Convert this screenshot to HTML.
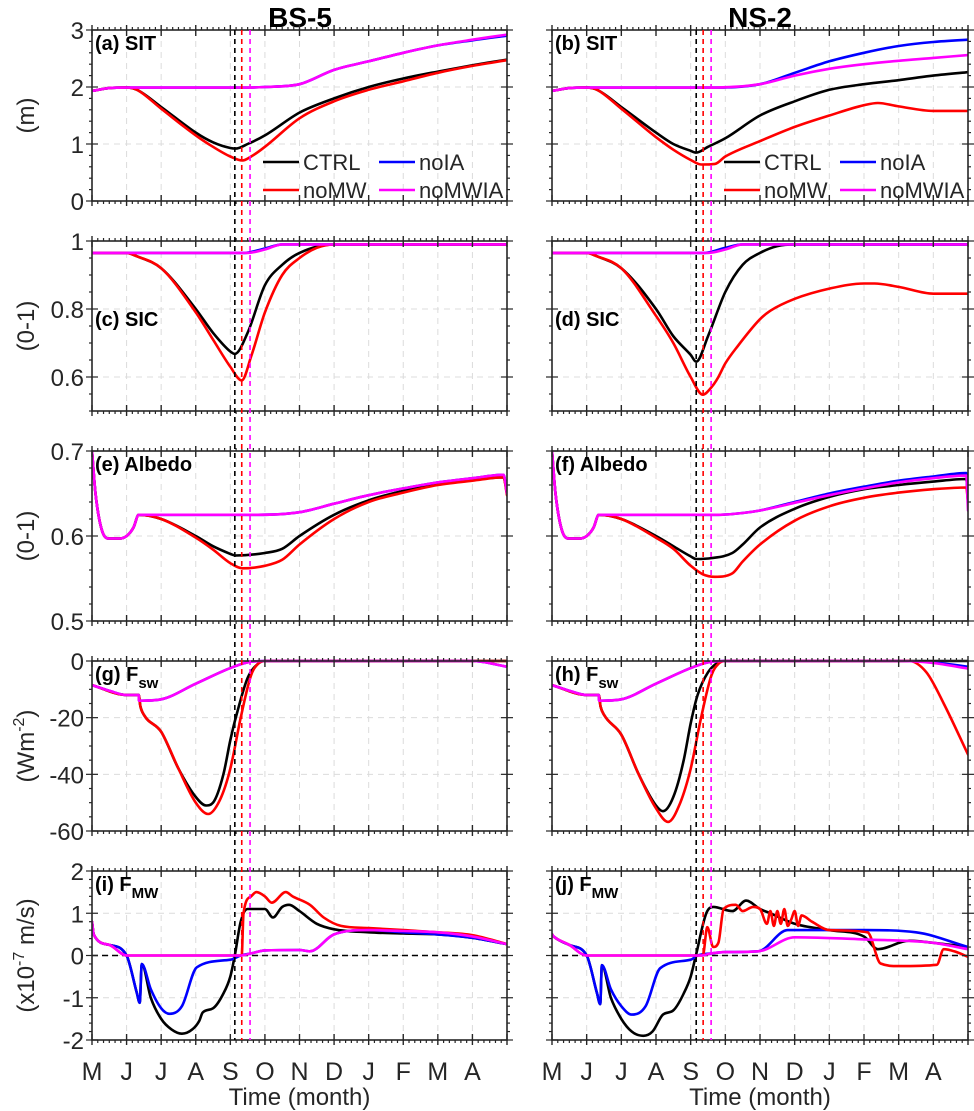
<!DOCTYPE html>
<html><head><meta charset="utf-8">
<style>
html,body{margin:0;padding:0;background:#fff;}
svg{display:block;font-family:"Liberation Sans",Arial,sans-serif;}
</style></head>
<body>
<svg id="fig" width="974" height="1111" viewBox="0 0 974 1111" xmlns="http://www.w3.org/2000/svg"></svg>
<script>
// ---------- data ----------
const months = ['M','J','J','A','S','O','N','D','J','F','M','A'];
const vlinesLeft = [4.13, 4.33, 4.57];
const vlinesRight = [4.16, 4.36, 4.59];

// (a) BS-5 SIT
const tA_ctrl=[0,0.5,1,1.3,2,3,3.5,4,4.15,4.5,5,6,7,8,9,10,11,12];
const vA_ctrl=[1.93,1.98,1.99,1.95,1.65,1.2,1.03,0.93,0.92,1.0,1.15,1.55,1.8,2.0,2.15,2.27,2.38,2.48];
const tA_nomw=[0,0.5,1,1.3,2,3,3.5,4,4.35,4.6,5,6,7,8,9,10,11,12];
const vA_nomw=[1.93,1.98,1.99,1.95,1.62,1.15,0.95,0.78,0.71,0.78,0.95,1.45,1.75,1.95,2.1,2.25,2.37,2.47];
const tA_noia=[0,0.5,1,4.5,5,6,7,8,9,10,11,12];
const vA_noia=[1.93,1.98,1.99,1.99,2.0,2.05,2.3,2.45,2.6,2.73,2.82,2.9];
const tA_nomwia=[0,0.5,1,4.5,5,6,7,8,9,10,11,12];
const vA_nomwia=[1.93,1.98,1.99,1.99,2.0,2.05,2.3,2.45,2.6,2.73,2.83,2.92];
// (b) NS-2 SIT
const tB_ctrl=[0,0.5,1,1.3,2,3,3.5,4,4.16,4.5,5,6,7,8,9,10,11,12];
const vB_ctrl=[1.93,1.98,1.99,1.95,1.65,1.2,1.0,0.88,0.85,0.95,1.1,1.5,1.75,1.95,2.05,2.12,2.2,2.26];
const tB_nomw=[0,0.5,1,1.3,2,3,3.5,4,4.3,4.7,5,6,7,8,9,9.4,10,11,12];
const vB_nomw=[1.93,1.98,1.99,1.95,1.62,1.12,0.9,0.72,0.64,0.65,0.78,1.05,1.3,1.5,1.68,1.72,1.66,1.58,1.58];
const tB_noia=[0,0.5,1,4.5,6,7,8,9,10,11,12];
const vB_noia=[1.93,1.98,1.99,1.99,2.05,2.25,2.45,2.6,2.72,2.79,2.83];
const tB_nomwia=[0,0.5,1,4.5,6,7,8,9,10,11,12];
const vB_nomwia=[1.93,1.98,1.99,1.99,2.05,2.2,2.32,2.4,2.46,2.51,2.56];
// (c) BS-5 SIC
const tC_ctrl=[0,1,1.3,2,3,3.5,4,4.13,4.5,5,5.5,6,7,12];
const vC_ctrl=[0.965,0.965,0.955,0.92,0.8,0.73,0.675,0.668,0.73,0.87,0.93,0.965,0.99,0.99];
const tC_nomw=[0,1,1.3,2,3,3.5,4,4.33,4.6,5,5.5,6,6.5,7,12];
const vC_nomw=[0.965,0.965,0.955,0.92,0.79,0.71,0.63,0.59,0.66,0.79,0.9,0.95,0.98,0.99,0.99];
const tC_noia=[0,4.4,5,5.5,12];
const vC_noia=[0.965,0.965,0.978,0.99,0.99];
const tC_nomwia=[0,4.5,5,5.5,12];
const vC_nomwia=[0.965,0.965,0.975,0.99,0.99];
// (d) NS-2 SIC
const tD_ctrl=[0,1,1.3,2,3,3.5,4,4.16,4.5,5,5.5,6,6.5,7,12];
const vD_ctrl=[0.965,0.965,0.955,0.92,0.8,0.72,0.665,0.645,0.72,0.85,0.93,0.965,0.985,0.99,0.99];
const tD_nomw=[0,1,1.3,2,3,3.5,4,4.35,4.6,4.8,5,5.35,6,6.3,7,8,9,9.3,10,11,12];
const vD_nomw=[0.965,0.965,0.955,0.92,0.78,0.7,0.6,0.548,0.57,0.6,0.64,0.69,0.77,0.795,0.83,0.86,0.875,0.875,0.865,0.845,0.845];
const tD_noia=[0,4.4,5,5.5,12];
const vD_noia=[0.965,0.965,0.98,0.99,0.99];
const tD_nomwia=[0,4.5,5,5.5,12];
const vD_nomwia=[0.965,0.965,0.975,0.99,0.99];
// (e) BS-5 Albedo
const tE_ctrl=[0,0.1,0.3,0.5,0.8,1,1.2,1.35,2,3,3.5,4,4.15,5,5.5,6,7,8,9,10,11,11.9,12];
const vE_ctrl=[0.7,0.65,0.605,0.597,0.597,0.6,0.61,0.625,0.62,0.6,0.588,0.579,0.577,0.58,0.585,0.6,0.625,0.642,0.653,0.661,0.666,0.669,0.65];
const tE_nomw=[0,0.1,0.3,0.5,0.8,1,1.2,1.35,2,3,3.5,4,4.35,5,5.5,6,7,8,9,10,11,11.9,12];
const vE_nomw=[0.7,0.65,0.605,0.597,0.597,0.6,0.61,0.625,0.62,0.598,0.584,0.568,0.562,0.565,0.572,0.59,0.62,0.64,0.651,0.66,0.665,0.669,0.648];
const tE_noia=[0,0.1,0.3,0.5,0.8,1,1.2,1.35,4.8,6,7,8,9,10,11,11.9,12];
const vE_noia=[0.7,0.65,0.605,0.597,0.597,0.6,0.61,0.625,0.625,0.628,0.638,0.648,0.656,0.663,0.668,0.672,0.65];
const tE_nomwia=[0,0.1,0.3,0.5,0.8,1,1.2,1.35,4.8,6,7,8,9,10,11,11.9,12];
const vE_nomwia=[0.7,0.65,0.605,0.597,0.597,0.6,0.61,0.625,0.625,0.628,0.638,0.648,0.656,0.663,0.668,0.672,0.65];
// (f) NS-2 Albedo
const tF_ctrl=[0,0.1,0.3,0.5,0.8,1,1.2,1.35,2,3,3.5,4,4.16,4.6,5.2,5.5,6,7,8,9,10,11,11.95,12];
const vF_ctrl=[0.7,0.65,0.605,0.597,0.597,0.6,0.61,0.625,0.62,0.6,0.588,0.576,0.573,0.574,0.58,0.59,0.61,0.632,0.646,0.655,0.66,0.664,0.667,0.64];
const tF_nomw=[0,0.1,0.3,0.5,0.8,1,1.2,1.35,2,3,3.5,4,4.35,4.7,5.2,5.5,6,7,8,9,10,11,11.95,12];
const vF_nomw=[0.7,0.65,0.605,0.597,0.597,0.6,0.61,0.625,0.62,0.598,0.585,0.565,0.555,0.552,0.556,0.57,0.59,0.618,0.635,0.645,0.651,0.655,0.657,0.64];
const tF_noia=[0,0.1,0.3,0.5,0.8,1,1.2,1.35,4.8,5.5,6,7,8,9,10,11,11.95,12];
const vF_noia=[0.7,0.65,0.605,0.597,0.597,0.6,0.61,0.625,0.625,0.627,0.63,0.64,0.65,0.658,0.665,0.67,0.674,0.64];
const tF_nomwia=[0,0.1,0.3,0.5,0.8,1,1.2,1.35,4.8,5.5,6,7,8,9,10,11,11.95,12];
const vF_nomwia=[0.7,0.65,0.605,0.597,0.597,0.6,0.61,0.625,0.625,0.627,0.63,0.639,0.648,0.656,0.663,0.668,0.671,0.63];
// (g) BS-5 Fsw
const tG_ctrl=[0,1,1.35,1.4,1.5,2,2.5,3,3.3,3.5,3.8,4,4.2,4.5,4.8,5,12];
const vG_ctrl=[-8.5,-12,-12,-16,-19,-25,-38,-48,-51,-50,-40,-28,-18,-6,-1,0,0];
const tG_nomw=[0,1,1.35,1.4,1.5,2,2.5,3,3.36,3.7,4,4.3,4.6,4.8,5,12];
const vG_nomw=[-8.5,-12,-12,-16,-19,-25,-38,-50,-54,-49,-38,-20,-5,-1,0,0];
const tG_noia=[0,0.5,1,1.35,1.36,2,3,4,4.5,5,11,12];
const vG_noia=[-8.5,-10.5,-12,-12,-14,-13.5,-8,-2.5,-0.5,0,0,-2];
const tG_nomwia=[0,0.5,1,1.35,1.36,2,3,4,4.5,5,11,12];
const vG_nomwia=[-8.5,-10.5,-12,-12,-14,-13.5,-8,-2.5,-0.5,0,0,-2];
// (h) NS-2 Fsw
const tH_ctrl=[0,1,1.35,1.4,1.5,2,2.5,3,3.2,3.5,3.8,4,4.2,4.5,4.8,5,12];
const vH_ctrl=[-8.5,-12,-12,-16,-19,-26,-40,-51,-53,-48,-35,-22,-12,-4,-0.5,0,0];
const tH_nomw=[0,1,1.35,1.4,1.5,2,2.5,3,3.35,3.7,4,4.3,4.6,4.8,5,10.3,10.8,11.3,12];
const vH_nomw=[-8.5,-12,-12,-16,-19,-26,-40,-52,-56.8,-50,-38,-20,-5,-1,0,0,-4,-15,-33];
const tH_noia=[0,0.5,1,1.35,1.36,2,3,4,4.5,5,10,11,12];
const vH_noia=[-8.5,-10.5,-12,-12,-14,-13.5,-8,-2.5,-0.5,0,0,-0.5,-2];
const tH_nomwia=[0,0.5,1,1.35,1.36,2,3,4,4.5,5,10,11,12];
const vH_nomwia=[-8.5,-10.5,-12,-12,-14,-13.5,-8,-2.5,-0.5,0,0,-0.7,-2.7];
// (i) BS-5 FMW
const tI_ctrl=[0,0.05,0.5,1,1.3,1.38,1.44,1.7,2,2.3,2.6,2.9,3.1,3.2,3.5,3.8,4.0,4.13,4.3,4.5,5,5.23,5.5,5.7,6,6.5,7,8,9,10,11,12];
const vI_ctrl=[0.8,0.5,0.25,0,-0.9,-1.12,-0.2,-1.0,-1.5,-1.75,-1.85,-1.75,-1.55,-1.35,-1.25,-0.9,-0.5,0,0.8,1.1,1.1,0.9,1.15,1.2,1.05,0.75,0.62,0.55,0.52,0.5,0.42,0.27];
const tI_nomw=[0,0.05,0.5,1,4.33,4.38,4.6,4.75,5,5.2,5.6,5.8,6.3,6.7,7.2,8,9,10,11,12];
const vI_nomw=[0.8,0.5,0.25,0,0,1.0,1.4,1.5,1.4,1.25,1.5,1.4,1.2,0.9,0.7,0.65,0.6,0.55,0.48,0.27];
const tI_noia=[0,0.05,0.5,1,1.3,1.38,1.44,1.7,2,2.25,2.6,3.03,4,4.3,4.6,5,6,6.3,7,8,9,10,11,12];
const vI_noia=[0.8,0.5,0.25,0,-0.9,-1.12,-0.2,-0.8,-1.25,-1.38,-1.2,-0.28,-0.1,0,0.05,0.12,0.13,0.1,0.5,0.6,0.55,0.5,0.42,0.27];
const tI_nomwia=[0,0.05,0.5,1,4.3,4.6,5,6,6.3,7,8,9,10,11,12];
const vI_nomwia=[0.8,0.5,0.25,0,0,0.05,0.12,0.13,0.1,0.5,0.6,0.58,0.55,0.45,0.27];
// (j) NS-2 FMW
const tJ_ctrl=[0,0.05,0.5,1,1.3,1.39,1.44,1.7,2,2.3,2.63,2.9,3.2,3.5,3.8,4.0,4.15,4.45,4.65,5.2,5.6,6.0,6.3,7,8,9,9.4,10.3,11,12];
const vJ_ctrl=[0.5,0.45,0.25,0,-0.9,-1.15,-0.23,-1.0,-1.5,-1.8,-1.9,-1.8,-1.4,-1.3,-0.9,-0.5,0,1.0,1.15,1.05,1.3,1.1,1.0,0.75,0.6,0.45,0.15,0.35,0.3,0.2];
const tJ_nomw=[0,0.05,0.5,1,4.35,4.48,4.65,4.8,4.95,5.3,5.5,5.8,6.0,6.2,6.3,6.4,6.5,6.6,6.7,6.8,6.9,7.0,7.1,7.2,7.5,8,9.1,9.48,10,11.1,11.3,11.6,12];
const vJ_nomw=[0.5,0.45,0.25,0,0,0.67,0.2,0.3,1.1,1.2,1.05,1.15,1.1,0.75,1.05,0.7,1.05,0.75,1.1,0.7,0.85,1.05,0.7,0.95,0.8,0.6,0.55,-0.19,-0.25,-0.22,0.15,0.1,-0.03];
const tJ_noia=[0,0.05,0.5,1,1.3,1.39,1.44,1.7,2,2.3,2.7,3.12,4,4.2,4.6,5,5.95,6.8,9,10.5,12];
const vJ_noia=[0.5,0.45,0.25,0,-0.9,-1.15,-0.23,-0.8,-1.2,-1.4,-1.2,-0.3,-0.1,0,0.05,0.08,0.1,0.6,0.6,0.55,0.2];
const tJ_nomwia=[0,0.05,0.5,1,4.3,4.6,5,5.95,7.0,9,11,12];
const vJ_nomwia=[0.5,0.45,0.25,0,0,0.05,0.08,0.1,0.43,0.38,0.3,0.15];

// ---------- layout ----------
const svg = document.getElementById('fig');
const NS = 'http://www.w3.org/2000/svg';
const cols = [{x0:92,x1:507},{x0:552,x1:968}];
const rows = [{y0:30,y1:201},{y0:241,y1:411},{y0:451,y1:621},{y0:661,y1:831},{y0:871,y1:1040}];
const C = {ctrl:'#000000', noia:'#0000ff', nomw:'#ff0000', nomwia:'#ff00ff'};

function mk(tag, attrs, parent){
  const e = document.createElementNS(NS, tag);
  for (const k in attrs) e.setAttribute(k, attrs[k]);
  (parent||svg).appendChild(e);
  return e;
}
// monotone cubic (Fritsch-Carlson) path in pixel space
function smoothPath(P){
  const n=P.length;
  const d=[], m=new Array(n).fill(0);
  for(let i=0;i<n-1;i++){
    const h=P[i+1][0]-P[i][0];
    d.push(h>1e-6?(P[i+1][1]-P[i][1])/h:0);
  }
  m[0]=d[0]; m[n-1]=d[n-2];
  for(let i=1;i<n-1;i++){
    m[i]=(d[i-1]*d[i]<=0)?0:(d[i-1]+d[i])/2;
  }
  for(let i=0;i<n-1;i++){
    if(Math.abs(d[i])<1e-9){m[i]=0;m[i+1]=0;continue;}
    const a=m[i]/d[i], b=m[i+1]/d[i];
    if(a<0) m[i]=0; if(b<0) m[i+1]=0;
    const s=a*a+b*b;
    if(s>9){const t=3/Math.sqrt(s); m[i]=t*a*d[i]; m[i+1]=t*b*d[i];}
  }
  let s='M'+P[0][0].toFixed(1)+','+P[0][1].toFixed(1);
  for(let i=0;i<n-1;i++){
    const h=P[i+1][0]-P[i][0];
    if(h<1e-6){ s+=' L'+P[i+1][0].toFixed(1)+','+P[i+1][1].toFixed(1); continue; }
    const c1x=P[i][0]+h/3, c1y=P[i][1]+m[i]*h/3;
    const c2x=P[i+1][0]-h/3, c2y=P[i+1][1]-m[i+1]*h/3;
    s+=' C'+c1x.toFixed(1)+','+c1y.toFixed(1)+' '+c2x.toFixed(1)+','+c2y.toFixed(1)+' '+P[i+1][0].toFixed(1)+','+P[i+1][1].toFixed(1);
  }
  return s;
}

const panels = [
  {id:'a',col:0,row:0,ymin:0,ymax:3,major:[0,1,2,3],minor:0.2,label:'(a) SIT',yl:'(m)',
   s:{ctrl:[tA_ctrl,vA_ctrl],noia:[tA_noia,vA_noia],nomw:[tA_nomw,vA_nomw],nomwia:[tA_nomwia,vA_nomwia]}},
  {id:'b',col:1,row:0,ymin:0,ymax:3,major:[0,1,2,3],minor:0.2,label:'(b) SIT',
   s:{ctrl:[tB_ctrl,vB_ctrl],noia:[tB_noia,vB_noia],nomw:[tB_nomw,vB_nomw],nomwia:[tB_nomwia,vB_nomwia]}},
  {id:'c',col:0,row:1,ymin:0.5,ymax:1,major:[0.6,0.8,1],minor:0.05,label:'(c) SIC',yl:'(0-1)',labY:85,
   s:{ctrl:[tC_ctrl,vC_ctrl],noia:[tC_noia,vC_noia],nomw:[tC_nomw,vC_nomw],nomwia:[tC_nomwia,vC_nomwia]}},
  {id:'d',col:1,row:1,ymin:0.5,ymax:1,major:[0.6,0.8,1],minor:0.05,label:'(d) SIC',labY:85,
   s:{ctrl:[tD_ctrl,vD_ctrl],noia:[tD_noia,vD_noia],nomw:[tD_nomw,vD_nomw],nomwia:[tD_nomwia,vD_nomwia]}},
  {id:'e',col:0,row:2,ymin:0.5,ymax:0.7,major:[0.5,0.6,0.7],minor:0.02,label:'(e) Albedo',yl:'(0-1)',
   s:{ctrl:[tE_ctrl,vE_ctrl],noia:[tE_noia,vE_noia],nomw:[tE_nomw,vE_nomw],nomwia:[tE_nomwia,vE_nomwia]}},
  {id:'f',col:1,row:2,ymin:0.5,ymax:0.7,major:[0.5,0.6,0.7],minor:0.02,label:'(f) Albedo',
   s:{ctrl:[tF_ctrl,vF_ctrl],noia:[tF_noia,vF_noia],nomw:[tF_nomw,vF_nomw],nomwia:[tF_nomwia,vF_nomwia]}},
  {id:'g',col:0,row:3,ymin:-60,ymax:0,major:[-60,-40,-20,0],minor:5,label:'(g) F',sub:'sw',yl:'(Wm',ylsup:'-2',
   s:{ctrl:[tG_ctrl,vG_ctrl],noia:[tG_noia,vG_noia],nomw:[tG_nomw,vG_nomw],nomwia:[tG_nomwia,vG_nomwia]}},
  {id:'h',col:1,row:3,ymin:-60,ymax:0,major:[-60,-40,-20,0],minor:5,label:'(h) F',sub:'sw',
   s:{ctrl:[tH_ctrl,vH_ctrl],noia:[tH_noia,vH_noia],nomw:[tH_nomw,vH_nomw],nomwia:[tH_nomwia,vH_nomwia]}},
  {id:'i',col:0,row:4,ymin:-2,ymax:2,major:[-2,-1,0,1,2],minor:0.2,label:'(i) F',sub:'MW',yl:'(x10',ylsup:'-7',ylrest:' m/s)',zero:true,
   s:{ctrl:[tI_ctrl,vI_ctrl],noia:[tI_noia,vI_noia],nomw:[tI_nomw,vI_nomw],nomwia:[tI_nomwia,vI_nomwia]}},
  {id:'j',col:1,row:4,ymin:-2,ymax:2,major:[-2,-1,0,1,2],minor:0.2,label:'(j) F',sub:'MW',zero:true,
   s:{ctrl:[tJ_ctrl,vJ_ctrl],noia:[tJ_noia,vJ_noia],nomw:[tJ_nomw,vJ_nomw],nomwia:[tJ_nomwia,vJ_nomwia]}},
];

const defs = mk('defs',{});

let t1 = mk('text',{x:300,y:27,'text-anchor':'middle','font-size':28,'font-weight':'bold'});
t1.textContent='BS-5';


let t2 = mk('text',{x:760,y:27,'text-anchor':'middle','font-size':28,'font-weight':'bold'});
t2.textContent='NS-2';



panels.forEach(p=>{
  const c = cols[p.col], r = rows[p.row];
  const X = m => c.x0 + (m/12)*(c.x1-c.x0);
  const Y = v => r.y1 - (v-p.ymin)/(p.ymax-p.ymin)*(r.y1-r.y0);
  const g = mk('g',{});
  
  
  const cp = mk('clipPath',{id:'clip-'+p.id},defs);
  mk('rect',{x:c.x0,y:r.y0-2,width:c.x1-c.x0,height:r.y1-r.y0+4},cp);
  for(let m=1;m<12;m++){
    mk('line',{x1:X(m),x2:X(m),y1:r.y0,y2:r.y1,stroke:'#dcdcdc','stroke-width':1,'stroke-dasharray':'6,5'},g);
  }
  p.major.forEach(v=>{
    if(v===p.ymin||v===p.ymax) return;
    mk('line',{x1:c.x0,x2:c.x1,y1:Y(v),y2:Y(v),stroke:'#dcdcdc','stroke-width':1,'stroke-dasharray':'6,5'},g);
  });
  if(p.zero){
    const z = mk('line',{x1:c.x0,x2:c.x1,y1:Y(0),y2:Y(0),stroke:'#000','stroke-width':1.5,'stroke-dasharray':'6,4'},g);
    
    
  }
  const order=['ctrl','noia','nomw','nomwia'];
  const lg = mk('g',{'clip-path':'url(#clip-'+p.id+')'},g);
  order.forEach(k=>{
    const [ts,vs]=p.s[k];
    const P = ts.map((t,i)=>[X(t),Y(vs[i])]);
    const pl = mk('path',{d:smoothPath(P),fill:'none',stroke:C[k],'stroke-width':2.6,'stroke-linejoin':'round','stroke-linecap':'round'},lg);
    
    
  });
  mk('rect',{x:c.x0,y:r.y0,width:c.x1-c.x0,height:r.y1-r.y0,fill:'none',stroke:'#262626','stroke-width':1.6},g);
  for(let m=0;m<=12;m++){
    [r.y0,r.y1].forEach((yy,j)=>{
      const d = j===0?1:-1;
      mk('line',{x1:X(m),x2:X(m),y1:yy,y2:yy+d*6,stroke:'#262626','stroke-width':1.4},g);
      mk('line',{x1:X(m),x2:X(m),y1:yy,y2:yy-d*5,stroke:'#262626','stroke-width':1.4},g);
    });
    if(m<12){
      for(let k=1;k<6;k++){
        const xm = X(m+k/6);
        mk('line',{x1:xm,x2:xm,y1:r.y0,y2:r.y0-3,stroke:'#262626','stroke-width':1.2},g);
        mk('line',{x1:xm,x2:xm,y1:r.y1,y2:r.y1+3,stroke:'#262626','stroke-width':1.2},g);
      }
    }
  }
  const n = Math.round((p.ymax-p.ymin)/p.minor);
  for(let k=0;k<=n;k++){
    const v = p.ymin + k*p.minor;
    const isMaj = p.major.some(mv=>Math.abs(mv-v)<1e-9);
    const L = isMaj?6:3;
    mk('line',{x1:c.x0,x2:c.x0-L,y1:Y(v),y2:Y(v),stroke:'#262626','stroke-width':1.2},g);
    mk('line',{x1:c.x1,x2:c.x1+L,y1:Y(v),y2:Y(v),stroke:'#262626','stroke-width':1.2},g);
    if(isMaj){
      mk('line',{x1:c.x0,x2:c.x0+6,y1:Y(v),y2:Y(v),stroke:'#262626','stroke-width':1.2},g);
      mk('line',{x1:c.x1,x2:c.x1-6,y1:Y(v),y2:Y(v),stroke:'#262626','stroke-width':1.2},g);
    }
  }
  if(p.col===0){
    p.major.forEach(v=>{
      const tl = mk('text',{x:c.x0-8,y:Y(v)+9,'text-anchor':'end','font-size':24,fill:'#262626'},g);
      tl.textContent = String(v);
      
      
    });
    const cy = (r.y0+r.y1)/2;
    const yl = mk('text',{x:0,y:0,'text-anchor':'middle','font-size':24,fill:'#262626',transform:'translate(34,'+cy+') rotate(-90)'},g);
    
    
    const s1 = mk('tspan',{},yl); s1.textContent = p.yl;
    if(p.ylsup){
      const s2 = mk('tspan',{dy:-10,'font-size':16},yl); s2.textContent=p.ylsup;
      const s3 = mk('tspan',{dy:10},yl); s3.textContent = p.ylrest||')';
    }
  }
  const ly = r.y0 + (p.labY||20);
  const pl = mk('text',{x:c.x0+3,y:ly,'font-size':20,'font-weight':'bold',fill:'#000'},g);
  
  
  const a1 = mk('tspan',{},pl); a1.textContent = p.label;
  if(p.sub){ const a2 = mk('tspan',{dy:7,'font-size':15},pl); a2.textContent=p.sub; }
  if(p.row===4){
    months.forEach((mn,i)=>{
      const ml = mk('text',{x:X(i),y:1080,'text-anchor':'middle','font-size':25,fill:'#262626'},g);
      ml.textContent = mn;
      
      
    });
    const xt = mk('text',{x:(c.x0+c.x1)/2,y:1105,'text-anchor':'middle','font-size':24,fill:'#262626'},g);
    xt.textContent='Time (month)';
    
    
  }
});

[[cols[0],vlinesLeft],[cols[1],vlinesRight]].forEach(([c,vs])=>{
  const cs=['#000','#ff0000','#ff00ff'];
  vs.forEach((m,i)=>{
    const x = c.x0 + (m/12)*(c.x1-c.x0);
    const vl = mk('line',{x1:x,x2:x,y1:rows[0].y0,y2:rows[4].y1,stroke:cs[i],'stroke-width':1.6,'stroke-dasharray':'5,4'});
    
    
  });
});

[{x:263,y:162},{x:724,y:162}].forEach((L,li)=>{
  const lg = mk('g',{});
  
  
  const items=[['CTRL','ctrl',0,0],['noIA','noia',1,0],['noMW','nomw',0,1],['noMWIA','nomwia',1,1]];
  items.forEach(([name,k,cx,ry])=>{
    const x = L.x + cx*116, y = L.y + ry*28;
    const ln = mk('line',{x1:x,x2:x+36,y1:y,y2:y,stroke:C[k],'stroke-width':2.6},lg);
    
    
    const tx = mk('text',{x:x+40,y:y+8,'font-size':22,fill:'#262626'},lg);
    tx.textContent=name;
    
    
  });
});
</script>
</body></html>
